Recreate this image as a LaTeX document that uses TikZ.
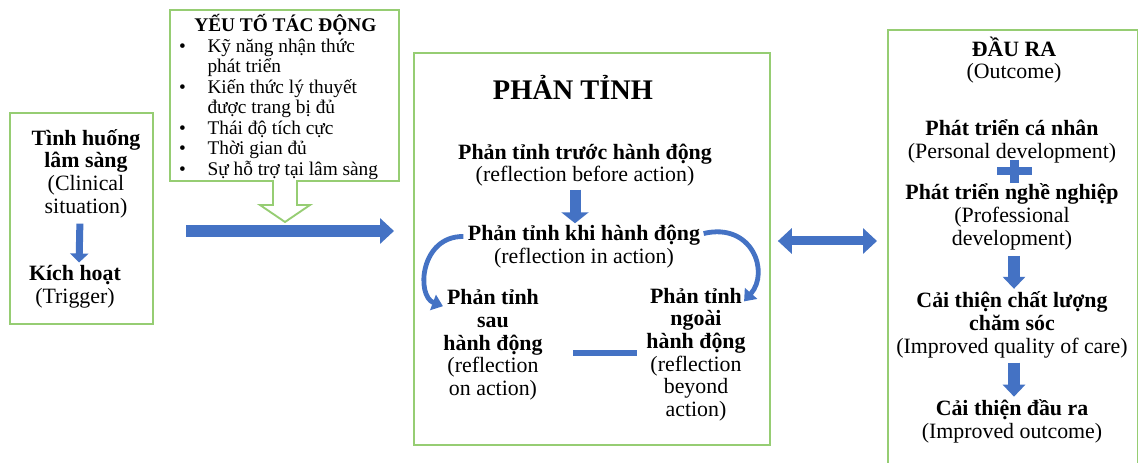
\documentclass[tikz,border=0pt]{standalone}
\usepackage{fontspec}
\setmainfont{Liberation Serif}
\usetikzlibrary{arrows.meta, calc}
\definecolor{boxgreen} {RGB}{150, 205, 115}
\definecolor{flowblue} {RGB}{68,  114, 196}

\begin{document}
\begin{tikzpicture}[
  x=0.75pt, y=-0.75pt,
  >=Stealth,
  thick,
  panel/.style={draw=boxgreen, line width=1.4pt, anchor=north west},
  body/.style={align=center, inner sep=0pt, font=\fontsize{16.4}{17}\selectfont},
  blockarrow/.style n args={3}{draw=flowblue, line width=#1,
    -{Triangle[width=#2, length=#3]}},
  bendarrow/.style={draw=flowblue, line width=3.6pt,
    -{Triangle[width=12pt, length=8pt]}},
]

%% ─── Frame ─────────────────────────────────────────────────
%%  1 unit = 1 px of the 1138 x 463 layout, y grows downward
\fill[white] (0,0) rectangle (1138,463);
\useasboundingbox (0,0) rectangle (1138,463);

% ── Panels ──────────────────────────────────────────────────
\node[panel, minimum width=107.25pt, minimum height=158.25pt] (leftbox) at (9,112) {};
\node[panel, minimum width=267pt,    minimum height=294pt]    (midbox)  at (413,52) {};
\node[panel, minimum width=187.5pt,  minimum height=337.5pt]  (outbox)  at (887,29) {};

% ── Factors callout (hollow down arrow) ─────────────────────
\draw[boxgreen, line width=1.4pt, fill=white]
  (170,10) -- (399,10) -- (399,181) -- (297,181) -- (297,205) -- (310,205)
  -- (285,222) -- (260,205) -- (273,205) -- (273,181) -- (170,181) -- cycle;

\node[anchor=north west, inner sep=0pt, font=\fontsize{14.5}{15.4}\selectfont]
  (factors) at (176,14)
  {\begin{tabular}{@{}p{23.25pt}@{}p{140pt}@{}}
    \multicolumn{2}{@{}c@{}}{\textbf{YẾU TỐ TÁC ĐỘNG}}\\
    \hspace*{2pt}\textbullet & Kỹ năng nhận thức\newline phát triển\\
    \hspace*{2pt}\textbullet & Kiến thức lý thuyết\newline được trang bị đủ\\
    \hspace*{2pt}\textbullet & Thái độ tích cực\\
    \hspace*{2pt}\textbullet & Thời gian đủ\\
    \hspace*{2pt}\textbullet & Sự hỗ trợ tại lâm sàng
  \end{tabular}};


% ════════════════════════════════════════════════════════════
%  Left panel
% ════════════════════════════════════════════════════════════
\node[body] (clin) at (86,173.5)
  {\textbf{Tình huống}\\\textbf{lâm sàng}\\(Clinical\\situation)};
\node[body] (trig) at (75,287)
  {\textbf{Kích hoạt}\\(Trigger)};

\draw[blockarrow={5.25pt}{13.5pt}{6.75pt}, shorten <=4pt, shorten >=2pt]
  ([xshift=-4.5pt]clin.south) -- ([xshift=3pt]trig.north);

% ── main flow into reflection ───────────────────────────────
\coordinate (flowrow) at (186,231);
\draw[blockarrow={9pt}{18.75pt}{10.5pt}, shorten >=14.25pt]
  (flowrow) -- (midbox.west |- flowrow);


% ════════════════════════════════════════════════════════════
%  Reflection panel
% ════════════════════════════════════════════════════════════
\node[inner sep=0pt, font=\fontsize{21.3}{25}\selectfont\bfseries] (title) at (573,87)
  {PHẢN TỈNH};

\node[body] (before) at (585,165)
  {\textbf{Phản tỉnh trước hành động}\\(reflection before action)};
\node[body] (inact) at (584,246.5)
  {\textbf{Phản tỉnh khi hành động}\\(reflection in action)};
\node[body] (after) at (493,345)
  {\textbf{Phản tỉnh}\\\textbf{sau}\\\textbf{hành động}\\(reflection\\on action)};
\node[body] (beyond) at (696,354.5)
  {\textbf{Phản tỉnh}\\\textbf{ngoài}\\\textbf{hành động}\\(reflection\\beyond\\action)};

\draw[blockarrow={8.25pt}{20.25pt}{8.25pt}, shorten <=2pt, shorten >=1pt]
  ([xshift=-7.5pt]before.south) -- ([xshift=-6.75pt]inact.north);

% ── bent arrows to both sides ───────────────────────────────
\draw[bendarrow]
  ($(inact.west)+(-4,-10)$) .. controls (420,236) and (416,296) .. ($(after.north west)+(0,17)$);
\draw[bendarrow]
  ($(inact.east)+(3,-13)$) .. controls (752,222) and (770,272) .. ($(beyond.north east)+(-2,14)$);

% ── link between after / beyond ─────────────────────────────
\coordinate (dashrow) at (0,353);
\draw[flowblue, line width=4.5pt, shorten <=22.5pt, shorten >=7pt]
  (after.east |- dashrow) -- (beyond.west |- dashrow);

% ── two-way arrow to outcome ────────────────────────────────
\coordinate (linkrow) at (0,241);
\draw[draw=flowblue, line width=6.75pt,
  {Triangle[width=18.75pt, length=10.5pt]}-{Triangle[width=18.75pt, length=10.5pt]},
  shorten <=5.25pt, shorten >=7.5pt]
  (midbox.east |- linkrow) -- (outbox.west |- linkrow);


% ════════════════════════════════════════════════════════════
%  Outcome panel
% ════════════════════════════════════════════════════════════
\node[body] (outhead) at (1014,60)
  {\textbf{ĐẦU RA}\\(Outcome)};
\node[body] (personal) at (1012,141.5)
  {\textbf{Phát triển cá nhân}\\(Personal development)};
\node[body] (prof) at (1012,217)
  {\textbf{Phát triển nghề nghiệp}\\(Professional\\development)};
\node[body] (quality) at (1012,325)
  {\textbf{Cải thiện chất lượng}\\\textbf{chăm sóc}\\(Improved quality of care)};
\node[body] (better) at (1012,421.5)
  {\textbf{Cải thiện đầu ra}\\(Improved outcome)};

% ── plus sign ───────────────────────────────────────────────
\fill[flowblue] (997,167) rectangle (1032,175);
\fill[flowblue] (1010,160) rectangle (1019,183);

\draw[blockarrow={9pt}{16.5pt}{9pt}, shorten <=4pt, shorten >=2pt]
  ([xshift=1.5pt]prof.south) -- ([xshift=1.5pt]quality.north);
\draw[blockarrow={9pt}{16.5pt}{9pt}, shorten <=3pt, shorten >=2pt]
  ([xshift=1.5pt]quality.south) -- ([xshift=1.5pt]better.north);

\end{tikzpicture}
\end{document}
